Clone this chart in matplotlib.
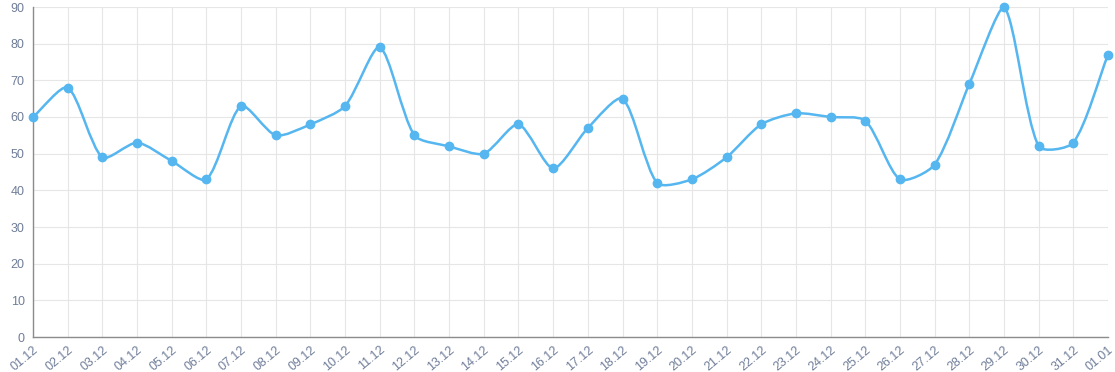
import numpy as np
import matplotlib
matplotlib.use("Agg")
import matplotlib.pyplot as plt
from matplotlib.path import Path
from matplotlib.patches import PathPatch

plt.rcParams['font.family'] = ['Liberation Sans', 'DejaVu Sans']

days = ['01.12', '02.12', '03.12', '04.12', '05.12', '06.12', '07.12', '08.12',
        '09.12', '10.12', '11.12', '12.12', '13.12', '14.12', '15.12', '16.12',
        '17.12', '18.12', '19.12', '20.12', '21.12', '22.12', '23.12', '24.12',
        '25.12', '26.12', '27.12', '28.12', '29.12', '30.12', '31.12', '01.01']
values = [60, 68, 49, 53, 48, 43, 63, 55, 58, 63, 79, 55, 52, 50, 58, 46,
          57, 65, 42, 43, 49, 58, 61, 60, 59, 43, 47, 69, 90, 52, 53, 77]
y_ticks = list(range(0, 100, 10))

line_color = '#55b6f0'
label_color = '#6f7d99'
grid_color = '#e6e6e6'
axis_color = '#8c8c8c'

fig = plt.figure(figsize=(11.15, 3.72), dpi=100)
ax = fig.add_axes([33 / 1115, 35 / 372, 1075 / 1115, 330 / 372])

x = np.arange(len(days))
ax.set_xlim(0, len(days) - 1)
ax.set_ylim(0, 90)


def spline_path(xs, ys, tension=0.25):
    # bezier like chart.js, computed in pixel space
    pts = ax.transData.transform(np.column_stack([xs, ys]))
    n = len(pts)
    cps = []
    for i in range(n):
        prev = pts[max(i - 1, 0)]
        cur = pts[i]
        nxt = pts[min(i + 1, n - 1)]
        d01 = np.hypot(*(cur - prev))
        d12 = np.hypot(*(nxt - cur))
        tot = d01 + d12
        s01 = d01 / tot if tot else 0
        s12 = d12 / tot if tot else 0
        fa = tension * s01
        fb = tension * s12
        cps.append((cur - fa * (nxt - prev), cur + fb * (nxt - prev)))
    verts = [pts[0]]
    codes = [Path.MOVETO]
    for i in range(1, n):
        verts += [cps[i - 1][1], cps[i][0], pts[i]]
        codes += [Path.CURVE4] * 3
    verts = ax.transData.inverted().transform(np.array(verts))
    verts[:, 1] = np.clip(verts[:, 1], 0, 90)
    return Path(verts, codes)


ax.add_patch(PathPatch(spline_path(x, values), fill=False, edgecolor=line_color,
                       lw=1.8, zorder=3, clip_on=False))
ax.plot(x, values, 'o', color=line_color, markersize=6, zorder=4, clip_on=False)

ax.set_xticks(x)
ax.set_xticklabels(days, rotation=40, ha='right', rotation_mode='anchor')
ax.set_yticks(y_ticks)
ax.tick_params(axis='both', colors=label_color, labelsize=9, length=0)
ax.tick_params(axis='x', pad=5)
ax.tick_params(axis='y', pad=6)
ax.grid(True, color=grid_color, lw=0.8)
ax.set_axisbelow(True)

for side in ['top', 'right']:
    ax.spines[side].set_visible(False)
for side in ['left', 'bottom']:
    ax.spines[side].set_color(axis_color)
    ax.spines[side].set_linewidth(1)

fig.savefig('out.png', dpi=100)
